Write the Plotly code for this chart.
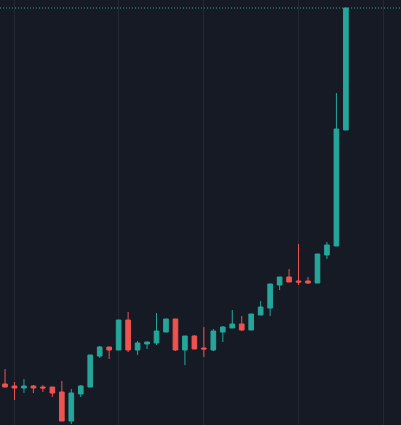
import plotly.graph_objects as go

# candle index (one per period)
idx = list(range(37))

opens = [0.56, 0.54, 0.52, 0.54, 0.53, 0.53, 0.48, 0.19, 0.46, 0.53,
         0.84, 0.93, 0.90, 1.20, 0.90, 0.96, 0.97, 1.08, 1.21, 0.90,
         1.04, 0.92, 0.90, 1.08, 1.12, 1.16, 1.10, 1.25, 1.32, 1.55,
         1.63, 1.59, 1.59, 1.57, 1.85, 1.94, 3.10]
highs = [0.71, 0.58, 0.61, 0.55, 0.55, 0.53, 0.59, 0.51, 0.55, 0.85,
         0.94, 0.93, 1.20, 1.28, 0.99, 0.98, 1.27, 1.21, 1.21, 1.04,
         1.05, 1.13, 1.11, 1.14, 1.30, 1.24, 1.26, 1.39, 1.56, 1.63,
         1.71, 1.96, 1.63, 1.86, 1.98, 3.47, 4.32]
lows = [0.53, 0.40, 0.47, 0.47, 0.48, 0.43, 0.19, 0.16, 0.43, 0.53,
        0.82, 0.81, 0.90, 0.88, 0.85, 0.91, 0.95, 1.08, 0.89, 0.75,
        0.91, 0.83, 0.89, 0.98, 1.12, 1.09, 1.10, 1.25, 1.24, 1.50,
        1.58, 1.55, 1.56, 1.57, 1.81, 1.94, 3.10]
closes = [0.53, 0.52, 0.54, 0.52, 0.52, 0.47, 0.19, 0.47, 0.54, 0.85,
          0.93, 0.90, 1.20, 0.90, 0.97, 0.98, 1.09, 1.21, 0.90, 1.04,
          0.91, 0.91, 1.09, 1.13, 1.16, 1.10, 1.26, 1.33, 1.56, 1.63,
          1.58, 1.58, 1.57, 1.86, 1.95, 3.11, 4.32]

# vertical grid positions (candle index)
grid_idx = [1, 12, 21, 31, 40]

UP = '#26a69a'
DOWN = '#ef5350'
BG = '#161a25'

fig = go.Figure(go.Candlestick(
    x=idx, open=opens, high=highs, low=lows, close=closes,
    increasing=dict(line=dict(color=UP, width=1), fillcolor=UP),
    decreasing=dict(line=dict(color=DOWN, width=1), fillcolor=DOWN),
    whiskerwidth=0,
))

# last price line
fig.add_shape(type='line', xref='paper', x0=0, x1=1, y0=closes[-1], y1=closes[-1],
              line=dict(color=UP, width=1, dash='1px,2px'))

fig.update_layout(
    width=401, height=425,
    margin=dict(l=0, r=0, t=0, b=0),
    paper_bgcolor=BG, plot_bgcolor=BG,
    showlegend=False,
    xaxis=dict(range=[-0.53, 41.82], tickvals=grid_idx, showticklabels=False,
               showgrid=True, gridcolor='#242835', gridwidth=1, zeroline=False,
               rangeslider=dict(visible=False), ticks=''),
    yaxis=dict(range=[0.15, 4.40], showgrid=False, showticklabels=False,
               zeroline=False, ticks=''),
)

fig.write_html("out.html", config={'displayModeBar': False},
               post_script="document.body.style.margin='0';")
